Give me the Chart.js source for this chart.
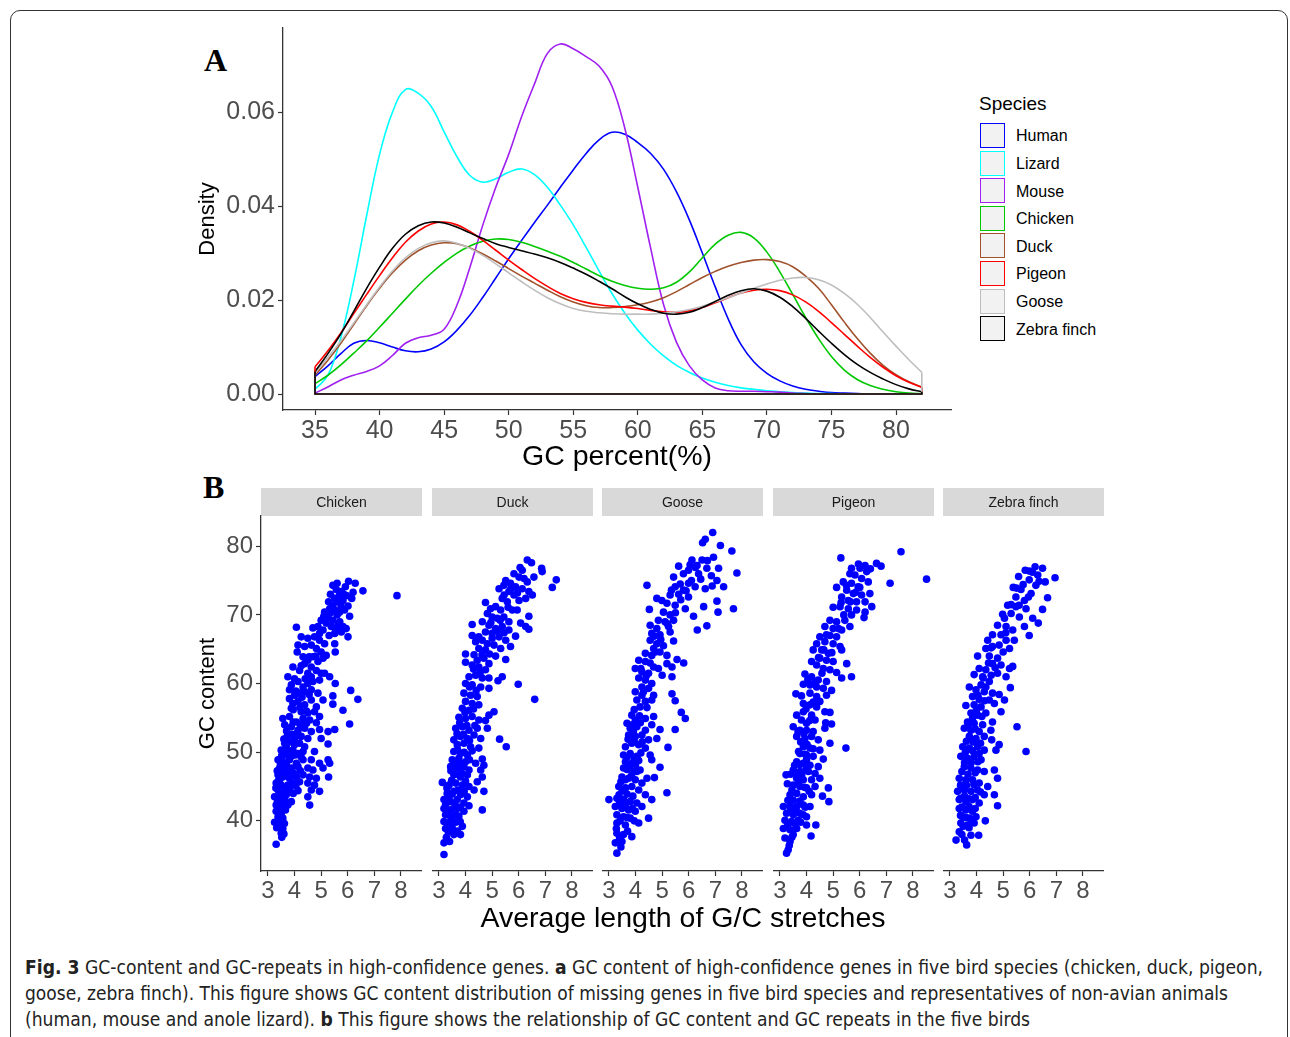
<!DOCTYPE html>
<html>
<head>
<meta charset="utf-8">
<script src="https://cdn.jsdelivr.net/npm/chart.js@4.4.0/dist/chart.umd.min.js"></script>
<style>
body { margin: 0; background: #fff; width: 1290px; height: 1037px; overflow: hidden; position: relative;
       font-family: "Liberation Sans", Arial, sans-serif; }
.abs { position: absolute; }
#frame { left: 10px; top: 10px; width: 1276px; height: 1040px; border: 1px solid #333; border-radius: 10px; }
.letter { font-family: "Liberation Serif", "Times New Roman", serif; font-weight: bold; font-size: 32px; line-height: 32px; }
#legendTitle { left: 979px; top: 93px; font-size: 19px; line-height: 22px; color: #000; }
.legRow { position: absolute; left: 980px; height: 27.6px; }
.legBox { position: absolute; left: 0; top: 0.8px; width: 23px; height: 23px; border: 1.5px solid; background: #f2f2f2; }
.legText { position: absolute; left: 36px; top: 0; line-height: 27.6px; font-size: 16px; white-space: nowrap; color: #000; }
#xTitleB { left: 383px; width: 600px; top: 900px; text-align: center; font-size: 28.5px; line-height: 34px; color: #000; }
.cap { left: 25px; white-space: nowrap; font-size: 19px; line-height: 26px; color: #222; transform-origin: 0 0;
       font-family: "Liberation Sans Narrow", "DejaVu Sans Condensed", "Liberation Sans", sans-serif; }
canvas { position: absolute; }
</style>
</head>
<body>
<div id="frame" class="abs"></div>
<div class="abs letter" style="left:204px; top:44px;">A</div>
<div class="abs letter" style="left:203px; top:471px;">B</div>

<canvas id="density" width="770" height="460" style="left:190px; top:20px;"></canvas>
<div id="legendTitle" class="abs">Species</div>
<div id="legend"></div>

<canvas id="f0" width="232" height="430" style="left:190px; top:480px;"></canvas>
<canvas id="f1" width="161" height="430" style="left:432px; top:480px;"></canvas>
<canvas id="f2" width="161" height="430" style="left:602px; top:480px;"></canvas>
<canvas id="f3" width="161" height="430" style="left:773px; top:480px;"></canvas>
<canvas id="f4" width="161" height="430" style="left:943px; top:480px;"></canvas>
<div id="xTitleB" class="abs">Average length of G/C stretches</div>

<div class="abs cap" data-w="1238" style="top:954px;"><b>Fig. 3</b> GC-content and GC-repeats in high-confidence genes. <b>a</b> GC content of high-confidence genes in five bird species (chicken, duck, pigeon,</div>
<div class="abs cap" data-w="1203" style="top:980px;">goose, zebra finch). This figure shows GC content distribution of missing genes in five bird species and representatives of non-avian animals</div>
<div class="abs cap" data-w="1005" style="top:1006px;">(human, mouse and anole lizard). <b>b</b> This figure shows the relationship of GC content and GC repeats in the five birds</div>

<script>
// ---- panel A: GC percent density ----
const gcPercent = [35,36,37,38,39,40,41,42,43,44,45,46,47,48,49,50,51,52,53,54,55,56,57,58,59,
                   60,61,62,63,64,65,66,67,68,69,70,71,72,73,74,75,76,77,78,79,80,81,82];
const densityXTicks = [35,40,45,50,55,60,65,70,75,80];
const densityYTicks = [0,0.02,0.04,0.06];

const human = [0.0037,0.0060,0.0086,0.0108,0.0114,0.0109,0.0100,0.0092,0.0090,0.0096,
  0.0111,0.0136,0.0168,0.0206,0.0247,0.0288,0.0327,0.0365,0.0402,0.0440,
  0.0477,0.0512,0.0541,0.0557,0.0553,0.0535,0.0512,0.0478,0.0430,0.0370,
  0.0300,0.0228,0.0160,0.0105,0.0068,0.0044,0.0028,0.0017,0.0010,0.0006,
  0.0003,0.0002,0.0001,0,0,0,0,0];
const lizard = [0.0010,0.0040,0.0120,0.0240,0.0380,0.0510,0.0600,0.0648,0.0640,0.0612,
  0.0558,0.0505,0.0465,0.0451,0.0458,0.0472,0.0479,0.0467,0.0440,0.0402,
  0.0360,0.0312,0.0262,0.0214,0.0172,0.0136,0.0106,0.0081,0.0061,0.0046,
  0.0034,0.0025,0.0018,0.0013,0.0010,0.0007,0.0005,0.0003,0.0002,0.0001,
  0.0001,0,0,0,0,0,0,0];
const mouse = [0.0002,0.0015,0.0030,0.0040,0.0048,0.0060,0.0082,0.0108,0.0120,0.0125,
  0.0138,0.0190,0.0270,0.0360,0.0440,0.0510,0.0590,0.0660,0.0725,0.0745,
  0.0735,0.0718,0.0698,0.0655,0.0565,0.0440,0.0310,0.0190,0.0110,0.0060,
  0.0030,0.0013,0.0007,0.0006,0.0006,0.0005,0.0004,0.0002,0.0001,0,
  0,0,0,0,0,0,0,0];
const chicken = [0.0022,0.0040,0.0062,0.0087,0.0113,0.0142,0.0172,0.0202,0.0231,0.0257,
  0.0280,0.0300,0.0315,0.0325,0.0330,0.0329,0.0323,0.0314,0.0304,0.0293,
  0.0280,0.0266,0.0252,0.0240,0.0231,0.0225,0.0223,0.0226,0.0238,0.0260,
  0.0290,0.0319,0.0338,0.0344,0.0332,0.0302,0.0260,0.0212,0.0163,0.0118,
  0.0080,0.0051,0.0031,0.0018,0.0010,0.0005,0.0002,0.0001];
const duck = [0.0040,0.0072,0.0108,0.0148,0.0188,0.0225,0.0258,0.0285,0.0305,0.0317,
  0.0322,0.0320,0.0311,0.0298,0.0283,0.0267,0.0251,0.0236,0.0221,0.0207,
  0.0196,0.0188,0.0184,0.0184,0.0186,0.0190,0.0196,0.0205,0.0218,0.0233,
  0.0248,0.0261,0.0272,0.0280,0.0285,0.0286,0.0282,0.0271,0.0251,0.0225,
  0.0190,0.0153,0.0118,0.0087,0.0061,0.0041,0.0026,0.0015];
const pigeon = [0.0058,0.0092,0.0130,0.0171,0.0212,0.0252,0.0290,0.0323,0.0347,0.0362,
  0.0366,0.0360,0.0346,0.0327,0.0306,0.0285,0.0265,0.0246,0.0229,0.0214,
  0.0203,0.0195,0.0190,0.0187,0.0185,0.0182,0.0178,0.0175,0.0174,0.0177,
  0.0184,0.0194,0.0205,0.0215,0.0221,0.0223,0.0220,0.0211,0.0196,0.0176,
  0.0152,0.0127,0.0102,0.0078,0.0057,0.0039,0.0025,0.0014];
const goose = [0.0045,0.0078,0.0113,0.0151,0.0190,0.0228,0.0262,0.0290,0.0310,0.0322,
  0.0326,0.0321,0.0310,0.0295,0.0277,0.0258,0.0239,0.0221,0.0205,0.0192,
  0.0182,0.0176,0.0173,0.0171,0.0170,0.0170,0.0170,0.0172,0.0175,0.0180,
  0.0187,0.0196,0.0205,0.0215,0.0225,0.0234,0.0242,0.0247,0.0248,0.0243,
  0.0232,0.0214,0.0191,0.0163,0.0132,0.0102,0.0073,0.0046];
const zebraFinch = [0.0048,0.0086,0.0128,0.0176,0.0225,0.0270,0.0310,0.0340,0.0358,0.0366,
  0.0364,0.0355,0.0343,0.0331,0.0320,0.0312,0.0305,0.0298,0.0290,0.0280,
  0.0268,0.0255,0.0240,0.0224,0.0207,0.0192,0.0180,0.0172,0.0170,0.0174,
  0.0184,0.0197,0.0210,0.0220,0.0224,0.0219,0.0206,0.0186,0.0161,0.0134,
  0.0108,0.0084,0.0063,0.0046,0.0032,0.0020,0.0011,0.0005];

const species = ["Human","Lizard","Mouse","Chicken","Duck","Pigeon","Goose","Zebra finch"];
const speciesColors = ["#0000ff","#00ffff","#a020f0","#00c800","#a0522d","#ff0000","#bebebe","#000000"];
const densities = [human, lizard, mouse, chicken, duck, pigeon, goose, zebraFinch];

// ---- panel B: GC content vs average G/C stretch length ----
const facetNames = ["Chicken","Duck","Goose","Pigeon","Zebra finch"];
const facetXTicks = [3,4,5,6,7,8];
const facetYTicks = [40,50,60,70,80];

const chickenPts = [[5.44,74.3],[5.57,73.7],[5.76,73.4],[6.03,74.9],[6.28,74.6],[6.20,73.3],[6.57,73.5],[5.91,74.1],[5.69,72.9],[5.51,72.4],
  [5.28,71.9],[5.44,71.4],[5.63,71.9],[5.82,72.1],[6.01,71.3],[5.88,70.7],[6.07,69.8],[5.69,70.4],[5.51,70.7],[5.32,70.9],
  [5.13,70.4],[5.26,69.7],[5.44,69.2],[5.63,68.5],[5.82,68.3],[5.94,68.0],[5.76,67.5],[5.57,67.8],[5.38,68.3],[5.19,68.8],
  [5.00,69.2],[4.88,68.3],[4.69,68.1],[5.07,67.8],[4.94,67.3],[5.51,67.3],[6.01,66.8],[7.85,72.8],[4.07,68.2],
  [4.25,66.8],[4.50,66.6],[4.75,66.8],[4.94,66.3],[5.13,65.8],[4.13,65.6],[4.38,65.4],[4.63,65.6],[4.82,65.1],[5.00,64.6],[5.19,64.1],[5.51,65.8],[5.53,64.6],
  [4.10,64.6],[4.32,63.9],[4.50,63.4],[4.69,63.9],[4.88,63.2],[5.07,63.7],[4.38,62.9],[4.63,62.4],[4.82,61.9],[5.00,61.5],[3.94,62.4],[4.19,61.9],[4.50,61.5],
  [5.13,61.5],[5.32,61.0],[3.75,61.0],[4.63,61.0],[4.94,60.5],[5.53,60.0],
  [3.88,59.8],[4.13,60.3],[4.32,59.5],[4.50,60.0],[4.69,60.3],[3.81,59.1],[4.00,58.3],[4.19,58.6],[4.38,58.8],[4.63,59.1],[4.88,58.6],[5.07,57.6],[5.44,58.2],
  [6.11,59.0],[6.38,57.7],[5.44,57.0],[5.82,56.1],
  [3.81,57.8],[3.94,57.1],[4.13,57.4],[4.38,56.9],[4.63,57.6],[4.82,56.6],[3.88,56.4],[4.25,55.9],[4.50,55.7],[4.75,55.9],[4.94,55.2],
  [3.56,54.9],[3.81,55.2],[4.07,54.4],[4.32,54.9],[4.57,54.7],[4.82,54.3],[3.63,54.0],[3.88,53.7],[4.13,53.2],[4.38,53.5],[4.63,53.0],[4.94,53.3],[5.26,53.0],
  [5.51,53.3],[6.07,54.1],[4.50,52.0],[5.00,52.0],[5.26,51.2],
  [3.63,51.3],[3.81,51.5],[4.00,51.1],[4.19,51.3],[4.38,50.8],[3.50,50.3],[3.75,50.1],[3.94,50.3],[4.13,49.8],[4.32,50.1],[4.75,50.1],
  [3.38,48.9],[3.56,48.6],[3.81,48.9],[4.07,48.4],[4.32,48.9],[4.63,48.9],[4.94,48.4],[5.26,48.9],[5.32,48.4],
  [3.44,47.7],[3.63,47.4],[3.88,47.7],[4.13,47.9],[4.50,47.7],[4.69,47.4],[5.07,47.7],[3.38,46.7],[3.56,46.4],[3.81,46.2],[4.07,46.4],[4.32,46.7],[4.57,46.4],
  [4.82,46.2],[5.28,46.4],
  [3.31,45.5],[3.50,45.2],[3.75,45.2],[3.94,45.5],[4.19,45.7],[4.50,45.5],[4.75,45.2],[3.38,44.5],[3.63,44.3],[4.13,44.4],[4.63,44.5],[4.94,44.3],
  [3.25,43.5],[3.44,43.3],[3.63,43.1],[3.88,42.8],[4.50,43.5],[4.57,42.3],[3.31,42.3],[3.50,42.1],[3.75,42.3],
  [3.31,41.4],[3.50,41.1],[3.38,40.6],[3.56,40.4],[3.25,39.8],[3.44,39.4],[3.56,38.9],[3.50,38.2],[3.60,38.1],[3.31,36.6],
  [3.38,43.5],[3.69,43.8],[3.44,46.0],[3.69,48.2],[3.88,49.4],[3.69,50.8],[4.00,52.0],[4.25,52.3],
  [3.30,44.8],[3.40,45.9],[3.47,44.0],[3.55,43.6],[3.70,44.9],[3.82,44.6],[3.95,44.0],[4.05,45.1],[3.36,42.8],[3.45,41.8],
  [3.58,42.6],[3.66,41.6],[3.42,40.1],[3.33,39.0],[3.48,39.8],[3.62,39.6],[3.52,37.6],
  [3.35,47.3],[3.47,48.3],[3.58,47.0],[3.72,46.8],[3.85,47.2],[3.98,46.9],[4.22,47.3],[3.52,49.5],[3.65,49.6],[3.78,49.7],
  [4.02,49.6],[4.25,49.3],[3.60,51.9],[3.73,52.4],[3.90,52.6],[4.10,52.7],
  [3.70,53.1],[3.95,54.4],[4.22,54.0],[4.45,54.2],[3.95,56.2],[4.20,56.5],[4.45,56.0],[4.05,58.9],[4.28,58.0],[4.55,58.4],
  [4.00,60.7],[4.40,60.7],[4.25,62.6],[4.55,63.9],[4.80,64.0],
  [5.35,70.3],[5.60,70.0],[5.75,71.2],[5.95,72.8],[5.35,73.0],[5.60,74.6],[5.85,73.0],[6.15,72.4],[5.70,69.0],[5.10,69.8],[5.30,67.0]];

const duckPts = [[6.32,78.0],[6.48,77.6],[6.86,76.8],[6.88,76.3],[7.41,75.1],[7.26,74.0],[6.13,76.5],[5.82,76.0],[6.01,75.5],[6.32,74.8],
  [6.57,75.5],[5.51,75.0],[5.69,74.6],[5.88,74.1],[6.13,73.8],[6.38,73.4],[6.51,72.9],[6.26,72.4],[5.44,74.3],[5.26,73.8],
  [5.63,73.4],[5.82,72.9],[6.01,72.1],[5.38,72.4],[5.57,71.9],[4.75,71.8],[4.94,70.9],[5.13,71.2],[5.32,70.7],[5.76,70.7],
  [5.94,70.7],[6.38,69.8],[6.07,68.8],[6.26,68.3],[6.38,67.9],[4.82,70.2],[5.00,69.7],[5.19,69.5],[5.44,69.7],[5.63,69.0],
  [4.63,69.0],[4.25,68.6],[4.88,68.5],[5.13,68.0],[5.38,68.3],[5.63,67.8],[5.88,66.9],[4.75,67.5],[5.00,67.3],[4.25,67.0],
  [4.50,66.8],[5.26,66.8],[5.51,66.3],[5.69,65.4],
  [4.38,66.1],[4.63,66.3],[4.82,65.8],[5.07,65.6],[5.32,65.1],[4.50,65.1],[4.75,64.9],[4.00,64.3],[4.32,64.2],[5.13,64.0],
  [5.51,63.5],[4.00,63.1],[4.44,63.4],[4.69,63.7],[4.88,62.9],[4.25,62.7],[4.50,62.4],[4.75,62.0],[4.13,61.0],[4.38,61.2],
  [4.63,60.8],[4.88,60.8],[5.38,61.0],[5.22,60.4],[5.98,59.9],[4.00,60.0],[4.25,59.8],[4.57,59.5],[4.88,59.3],[3.94,58.6],
  [4.19,58.3],[4.44,58.1],[6.60,57.7],[4.00,57.4],[4.25,57.1],[4.50,56.9],[3.88,56.4],[4.13,56.1],[5.07,55.9],[4.88,55.4],
  [3.75,55.1],[4.00,54.9],[4.25,55.2],[4.50,54.7],[4.75,54.6],[3.63,53.5],[3.88,53.7],[4.13,53.2],[4.44,53.5],[4.82,53.5],
  [3.56,51.8],[3.81,52.3],[4.07,52.0],[4.32,52.5],[4.57,52.0],[5.28,51.9],[5.53,50.8],[3.69,51.1],[3.94,51.3],[4.19,50.8],
  [4.50,50.6],[3.56,50.1],[3.81,49.8],[4.07,49.6],[3.50,48.9],[3.75,49.1],[4.00,48.6],[4.63,49.0],[4.38,48.4],[4.69,48.1],
  [3.44,47.9],[3.69,47.7],[3.94,47.9],[4.13,47.4],[4.57,47.4],[3.56,46.7],[3.81,46.4],[4.07,46.7],[4.63,46.4],[3.13,45.6],
  [3.38,45.2],[3.63,45.5],[3.88,45.2],[4.13,45.0],[4.44,45.7],
  [3.31,44.0],[3.56,44.3],[3.81,43.8],[4.07,43.5],[4.32,44.5],[4.69,44.3],[3.19,43.1],[3.44,42.8],[3.69,43.1],[3.94,42.6],
  [4.13,42.2],[3.19,41.8],[3.44,41.6],[3.69,41.8],[3.94,41.4],[4.63,41.6],[3.25,40.9],[3.50,40.6],[3.75,40.7],[3.19,39.9],
  [3.38,39.7],[3.63,39.8],[3.25,38.9],[3.88,39.2],[3.56,38.0],[3.81,38.0],[3.19,36.8],[3.40,37.0],[3.19,35.1],
  [3.25,42.4],[3.35,43.6],[3.50,43.9],[3.60,42.4],[3.80,42.0],[3.30,41.0],[3.45,40.2],[3.62,40.9],[3.80,39.9],[3.35,38.4],
  [3.50,39.0],[3.70,38.5],[3.28,37.6],
  [3.30,44.8],[3.48,45.9],[3.72,44.5],[3.95,44.3],[3.45,47.3],[3.60,46.8],[3.85,47.0],[4.00,45.8],[3.62,48.3],[3.85,48.2],
  [4.15,48.9],[3.70,50.4],[3.95,50.0],[4.25,50.2],
  [3.68,52.7],[3.92,52.6],[4.15,51.7],[3.78,54.3],[4.05,53.9],[4.35,53.9],[3.98,55.8],[4.30,56.3],[4.15,59.5],[4.40,59.0],
  [4.55,61.6],[4.30,62.1],[4.62,64.2],[4.90,64.3],
  [5.00,66.6],[5.20,67.7],[5.45,67.4],[4.95,68.9],[5.30,69.2],[5.60,71.1],[5.45,72.9],[5.70,73.8],[5.95,73.2],[6.20,75.3],[6.05,76.9]];

const goosePts = [[6.90,82.0],[6.62,81.0],[6.52,80.5],[7.19,80.1],[7.62,79.3],[6.93,78.4],[6.50,78.0],[6.12,78.0],[5.62,77.1],[6.31,77.2],
  [6.68,76.8],[7.12,76.8],[7.81,76.1],[5.99,76.5],[6.37,76.0],[5.80,76.0],[5.43,75.5],[7.06,75.0],[7.31,74.1],[4.43,74.3],
  [6.88,74.2],[6.62,73.8],[5.68,74.5],[5.99,74.6],[6.24,74.1],[5.49,74.1],[5.80,73.6],[5.62,73.0],[5.30,72.9],[5.99,72.6],
  [4.80,72.4],[4.99,72.1],[7.06,72.0],[5.18,71.7],[5.49,71.4],[5.87,70.9],[6.56,71.2],[7.68,70.9],[7.10,70.4],[4.52,70.8],
  [6.18,69.8],[5.05,70.4],[5.30,70.0],[4.86,69.2],[5.11,69.0],[5.43,69.2],[4.55,68.5],[4.80,68.0],[5.24,68.3],[6.68,68.4],[6.32,67.8],
  [4.61,67.3],[4.92,67.1],[5.30,67.5],[5.43,66.2],[4.55,66.3],[4.80,65.8],[5.05,65.5],[4.68,65.1],[4.92,64.6],[5.18,64.1],
  [4.37,64.4],[4.61,64.1],[5.56,63.5],[5.81,63.0],[4.12,63.4],[4.37,63.2],[4.68,62.4],[4.86,62.2],[5.18,62.9],[5.37,62.4],
  [3.99,62.2],[4.24,61.7],[4.49,61.5],[5.00,61.2],[5.37,61.0],[4.12,60.8],[4.37,60.5],[4.61,60.0],[4.24,59.5],[4.49,59.3],
  [3.99,58.8],[4.24,58.3],[4.68,58.3],[5.37,58.5],[5.49,57.5],[4.05,57.6],[4.37,57.4],[4.61,57.6],[4.17,56.6],[4.43,56.5],
  [5.72,55.8],[5.87,54.9],
  [3.86,55.4],[3.68,54.2],[3.99,54.7],[4.37,54.9],[4.68,55.2],[3.80,53.5],[4.05,53.7],[4.37,53.2],[4.61,54.0],[4.92,53.3],
  [5.49,53.3],[3.74,52.5],[3.99,52.3],[4.24,52.5],[4.49,51.8],[4.80,52.0],[3.62,50.8],[3.86,51.3],[4.12,51.1],[4.37,50.6],
  [5.22,50.7],[3.55,49.6],[3.80,49.8],[4.05,49.4],[4.55,49.6],[3.62,48.6],[3.86,48.4],[4.12,48.8],[4.61,48.9],[4.92,47.8],
  [3.68,47.5],[3.93,47.2],[4.17,47.4],[4.43,46.2],[4.71,46.3],[3.49,46.4],[3.74,46.2],[3.99,46.0],[4.24,45.5],[3.37,45.0],
  [3.62,44.8],[3.86,45.0],
  [4.12,44.5],[4.37,43.8],[4.61,43.1],[5.18,44.1],[3.00,43.1],[3.30,43.3],[3.55,43.1],[3.80,42.8],[4.05,42.6],[4.24,42.1],
  [3.24,42.1],[3.49,41.8],[3.74,41.6],[3.99,41.4],[4.49,40.4],[3.30,40.9],[3.55,40.6],[3.80,40.4],[4.12,39.7],[3.30,39.7],
  [3.62,39.4],[3.86,37.7],[3.30,38.2],[3.55,38.0],[3.24,36.8],[3.49,37.0],[3.30,35.3],
  [3.38,43.8],[3.50,44.4],[3.68,43.9],[3.90,43.6],[3.40,42.6],[3.62,42.3],[3.88,41.8],[3.42,40.0],[3.68,40.5],[3.95,40.0],
  [3.40,37.5],[3.70,38.5],[3.45,36.2],[3.28,38.9],
  [3.45,45.7],[3.62,46.0],[3.85,46.6],[4.05,47.2],[3.55,47.7],[3.78,47.9],[4.00,48.2],[3.68,49.3],[3.95,49.0],[4.20,49.9],
  [3.72,51.9],[3.95,51.8],[4.25,51.5],[3.88,54.0],[4.18,54.3],
  [3.92,53.0],[4.15,55.3],[3.95,56.2],[4.30,58.8],[4.40,61.1],[4.20,62.2],[4.55,63.0],[4.75,64.6],[4.95,66.4],[4.70,66.9],
  [5.20,68.7],[5.50,70.3],[5.70,72.2],[5.35,73.6],
  [5.90,73.5],[6.10,75.0],[6.45,75.2],[6.25,76.9],[6.70,77.9],[6.05,77.3],[6.85,75.7]];

const pigeonPts = [[5.29,78.3],[7.55,79.2],[8.51,75.2],[7.14,74.6],[6.63,77.5],[6.80,77.1],[6.20,77.2],[6.01,76.8],[6.26,76.3],[5.69,76.8],
  [5.82,75.8],[5.63,76.0],[6.07,75.3],[6.32,74.8],[5.38,74.8],[5.69,74.6],[5.94,74.1],[5.13,74.0],[5.51,73.6],[5.76,73.1],
  [6.07,72.9],[6.38,73.1],[5.32,72.6],[5.57,72.1],[5.88,71.9],[6.20,71.9],[6.45,71.2],[5.00,71.1],[5.26,71.2],[5.57,70.9],
  [5.88,70.7],[6.20,70.4],[6.16,69.6],[5.69,70.0],[4.88,69.2],[5.13,69.0],[5.44,69.2],[5.63,68.3],[4.69,68.3],[5.00,68.0],[5.32,67.8],
  [4.50,66.8],[4.75,67.1],[5.13,66.8],[4.38,65.8],[4.69,66.1],[5.00,65.8],[5.26,65.4],[5.32,64.9],[4.25,64.9],[4.57,64.9],
  [4.82,64.4],[4.50,63.7],[4.75,63.4],[5.00,63.2],[4.19,63.2],[5.51,62.9],[4.38,62.7],[4.63,62.2],[4.88,62.0],[5.13,61.6],
  [5.32,60.8],[5.69,61.0],[3.94,61.4],[4.19,61.0],[4.44,60.5],[4.75,60.3],[3.88,59.9],[4.13,59.8],[4.38,59.5],[4.63,59.3],
  [4.94,59.0],[3.60,58.5],[3.81,58.2],[4.13,58.6],[4.38,58.1],[4.75,58.3],[3.88,57.1],[4.13,56.9],[4.38,56.6],[4.69,55.9],
  [4.88,55.8],[3.63,55.4],[3.88,55.9],[4.19,55.4],[3.81,54.7],[4.00,54.2],[4.32,54.7],[4.72,54.3],[4.94,54.1],[3.50,53.7],
  [3.75,53.2],[4.00,53.2],[4.25,53.0],[4.69,53.5],[3.63,52.3],[3.94,52.0],[4.19,52.3],[4.44,51.8],[4.88,51.3],[5.48,50.6],
  [3.88,50.8],[4.13,50.6],[4.50,50.3],[3.75,49.8],[4.00,49.6],[4.25,49.4],[4.63,49.0],[3.63,48.6],[3.88,48.4],[4.13,48.1],
  [4.44,47.9],[3.50,47.4],[3.75,47.2],[4.07,47.2],[4.32,46.9],[3.23,46.7],[3.63,46.2],[3.88,46.0],[4.19,46.0],[4.50,46.2],
  [3.50,45.2],[3.75,45.0],[4.00,44.8],[4.32,45.0],[4.82,44.8],[3.38,43.8],[3.63,44.0],[3.88,43.5],[4.19,43.8],[4.60,43.6],[4.84,42.8],
  [3.13,42.1],[3.38,42.3],[3.63,42.1],[3.88,42.3],[4.13,42.1],[3.25,41.1],[3.50,40.9],[3.75,41.1],[4.00,40.6],[3.19,40.1],
  [3.44,39.9],[3.69,40.1],[4.00,39.4],[4.35,39.4],[3.13,38.9],[3.38,38.7],[3.63,38.9],[4.17,37.8],[3.19,37.5],[3.38,37.0],
  [3.31,35.8],[3.25,35.3],
  [3.30,43.0],[3.50,43.0],[3.75,42.9],[3.95,42.0],[3.40,41.6],[3.62,41.4],[3.88,40.9],[3.30,39.5],[3.55,39.6],[3.78,39.8],
  [3.50,38.0],[3.35,36.4],[3.45,37.6],
  [3.28,45.4],[3.45,44.5],[3.70,45.5],[3.92,44.9],[4.10,44.3],[3.40,46.8],[3.58,47.0],[3.82,46.7],[3.98,47.5],[3.55,48.1],
  [3.75,48.2],[4.00,48.9],[3.70,50.1],[3.95,49.7],[4.25,50.5],
  [3.78,51.5],[4.02,51.1],[3.68,53.0],[3.90,52.7],[4.12,54.6],[3.98,56.3],[4.25,57.3],[4.50,57.4],[4.05,60.6],[4.30,60.1],
  [4.58,61.5],[4.45,63.8],[4.65,64.9],[4.95,64.5],
  [4.88,67.0],[5.20,68.0],[5.40,70.0],[5.30,71.8],[5.65,71.9],[5.50,74.3],[5.85,73.3],[6.00,74.0],[5.95,77.4],[6.40,76.7]];

const zebraPts = [[6.20,77.0],[6.48,76.8],[5.83,76.5],[5.98,76.4],[6.95,75.4],[5.58,75.6],[6.30,75.8],[5.98,75.1],[6.58,74.8],[6.23,74.3],
  [5.38,74.0],[5.67,73.7],[6.05,73.1],[6.67,72.5],[5.48,72.6],[5.80,72.1],[5.17,71.4],[5.48,71.2],[5.86,70.9],[6.48,70.8],
  [5.30,70.2],[5.61,69.7],[6.11,69.5],[6.32,68.8],[5.05,69.5],[4.79,68.5],[5.11,68.3],[5.36,67.8],[5.80,68.3],[5.98,67.0],
  [4.60,67.1],[4.92,67.1],[5.11,66.3],[5.42,66.3],[4.42,66.3],[4.35,65.1],[4.60,65.4],[5.24,65.1],[4.04,64.0],
  [4.48,64.0],[4.79,63.7],[4.60,62.9],[4.92,62.7],[5.36,62.5],[4.10,62.2],[4.35,62.0],[5.24,62.2],[3.91,61.3],[4.23,61.0],
  [4.79,61.5],[5.11,61.0],[4.48,60.3],[4.17,59.8],[5.27,59.4],[3.73,59.5],[3.98,59.1],[4.29,58.8],[4.60,58.6],[4.85,58.4],
  [3.85,58.1],[4.10,57.7],[4.48,57.6],[5.05,57.6],[3.60,56.8],[3.91,56.9],[4.17,56.6],[4.67,57.1],[4.92,55.9],[3.79,55.7],
  [4.04,55.4],[4.35,55.7],[4.60,54.4],[5.52,53.7],[3.66,54.4],[3.91,54.2],[4.23,54.0],[3.54,53.5],[3.79,53.2],[4.10,53.0],
  [4.54,53.2],[3.73,52.3],[3.98,52.0],[4.29,52.3],[4.57,51.8],[4.85,51.1],[4.73,50.3],[5.86,50.1],
  [3.48,50.8],[3.73,50.6],[4.04,50.8],[4.29,50.3],[3.41,49.4],[3.66,49.1],[3.91,49.4],[4.17,48.9],[3.54,47.9],[3.79,47.7],
  [4.04,47.4],[4.29,47.2],[4.67,47.4],[4.79,46.2],[3.35,46.2],[3.60,46.0],[3.85,46.0],[4.10,45.5],[4.42,45.0],[3.29,44.3],
  [3.54,44.5],[3.79,44.3],[4.04,44.5],[4.67,43.8],[4.29,43.8],[3.35,43.1],[3.60,42.8],[3.85,43.1],[4.10,42.6],[4.79,42.2],
  [3.35,41.8],[3.60,41.6],[3.85,41.4],[3.48,40.6],[3.73,40.4],[3.98,40.6],[4.33,40.0],[3.41,39.7],[3.66,39.4],[3.91,39.7],
  [3.35,38.4],[3.79,37.9],[4.08,37.9],[3.23,37.2],[3.63,36.5],
  [3.40,43.3],[3.55,43.6],[3.72,43.2],[3.95,43.4],[3.45,42.0],[3.72,42.1],[3.95,41.8],[3.40,40.8],[3.60,40.5],[3.85,40.2],
  [3.50,39.2],[3.72,39.0],[3.45,38.0],[3.55,37.2],
  [3.40,45.2],[3.62,45.2],[3.90,45.3],[4.15,44.2],[3.45,47.2],[3.68,46.8],[3.95,47.0],[3.55,48.5],[3.80,48.5],[4.05,48.6],
  [3.58,50.0],[3.85,50.2],[4.10,49.8],[3.62,51.6],
  [3.88,51.5],[4.15,51.3],[3.68,53.9],[3.95,53.4],[3.85,55.0],[4.20,55.2],[4.00,56.2],[4.30,57.5],[4.05,58.3],[4.35,59.5],
  [4.25,60.8],[4.55,61.2],[4.45,63.0],[4.70,62.3],
  [4.55,65.2],[4.85,65.6],[5.00,64.6],[5.10,67.4],[4.98,70.1],[5.30,71.5],[5.60,71.4],[5.50,73.9],[5.75,74.4],[5.95,72.6],
  [6.10,76.2],[6.35,74.9]];

const facetPoints = [chickenPts, duckPts, goosePts, pigeonPts, zebraPts];

const FONT = '"Liberation Sans", Arial, sans-serif';
const tickGrey = "#4d4d4d";
const axisColor = "#333333";

// closes each density outline down to zero, like a polygon
const densityEdges = {
  id: 'densityEdges',
  afterDatasetsDraw(chart) {
    const ctx = chart.ctx;
    const y0 = chart.scales.y.getPixelForValue(0);
    ctx.save();
    chart.data.datasets.forEach(function (ds, i) {
      const pts = chart.getDatasetMeta(i).data;
      const first = pts[0], last = pts[pts.length - 1];
      ctx.strokeStyle = ds.borderColor;
      ctx.lineWidth = ds.borderWidth;
      ctx.beginPath();
      ctx.moveTo(first.x, first.y);
      ctx.lineTo(first.x, y0);
      ctx.lineTo(last.x, y0);
      ctx.lineTo(last.x, last.y);
      ctx.stroke();
    });
    ctx.restore();
  }
};

// grey facet strip above each panel
const facetStrip = {
  id: 'facetStrip',
  beforeDraw(chart, args, opts) {
    const ctx = chart.ctx, a = chart.chartArea;
    ctx.save();
    ctx.fillStyle = '#d9d9d9';
    ctx.fillRect(a.left, a.top - 28, a.right - a.left, 28);
    ctx.fillStyle = '#1a1a1a';
    ctx.font = '14px ' + FONT;
    ctx.textAlign = 'center';
    ctx.textBaseline = 'middle';
    ctx.fillText(opts.label, (a.left + a.right) / 2, a.top - 13);
    ctx.restore();
  }
};

function axisStyle() {
  return {
    grid: { display: true, drawOnChartArea: false, drawTicks: true, tickLength: 5, tickColor: axisColor, tickWidth: 1.2 },
    border: { display: true, color: axisColor, width: 1.3 },
  };
}

// fixed axis sizes so the plot areas land where the original has them
function fixX(h) {
  return function (s) { s.height = h; s.paddingLeft = 0; s.paddingRight = 0; };
}
function fixY(w) {
  return function (s) { if (w !== null) s.width = w; s.paddingTop = 0; s.paddingBottom = 0; };
}

new Chart(document.getElementById('density'), {
  type: 'line',
  data: {
    datasets: species.map(function (name, i) {
      return {
        label: name,
        data: gcPercent.map(function (x, j) { return { x: x, y: densities[i][j] }; }),
        borderColor: speciesColors[i],
        borderWidth: 1.6,
        pointRadius: 0,
        tension: 0.4,
        fill: false,
        order: species.length - 1 - i
      };
    })
  },
  plugins: [densityEdges],
  options: {
    responsive: false,
    animation: false,
    events: [],
    layout: { autoPadding: false, padding: { top: 8, right: 9, left: 0, bottom: 0 } },
    plugins: { legend: { display: false }, tooltip: { enabled: false } },
    scales: {
      x: Object.assign(axisStyle(), {
        type: 'linear', min: 32.52, max: 84.26,
        afterBuildTicks: function (s) { s.ticks = densityXTicks.map(function (v) { return { value: v }; }); },
        afterFit: fixX(70),
        ticks: { color: tickGrey, font: { size: 25, family: FONT }, padding: 1, maxRotation: 0, autoSkip: false },
        title: { display: true, text: 'GC percent(%)', color: '#000', font: { size: 28.5, family: FONT }, padding: { bottom: 6 } }
      }),
      y: Object.assign(axisStyle(), {
        min: -0.0034, max: 0.0779,
        afterBuildTicks: function (s) { s.ticks = densityYTicks.map(function (v) { return { value: v }; }); },
        afterFit: fixY(93),
        ticks: { color: tickGrey, font: { size: 25, family: FONT }, padding: 3,
                 callback: function (v) { return v.toFixed(2); } },
        title: { display: true, text: 'Density', color: '#000', font: { size: 22, family: FONT }, padding: { top: 5 } }
      })
    }
  }
});

// legend for panel A
const legend = document.getElementById('legend');
species.forEach(function (name, i) {
  const row = document.createElement('div');
  row.className = 'legRow';
  row.style.top = (122.3 + i * 27.6) + 'px';
  row.innerHTML = '<div class="legBox" style="border-color:' + speciesColors[i] + '"></div><div class="legText">' + name + '</div>';
  legend.appendChild(row);
});

facetNames.forEach(function (name, k) {
  const first = k === 0;
  new Chart(document.getElementById('f' + k), {
    type: 'scatter',
    data: {
      datasets: [{
        data: facetPoints[k].map(function (p) { return { x: p[0], y: p[1] }; }),
        pointRadius: 3.8,
        pointHoverRadius: 3.8,
        pointBackgroundColor: '#0000ff',
        pointBorderWidth: 0
      }]
    },
    plugins: [facetStrip],
    options: {
      responsive: false,
      animation: false,
      events: [],
      layout: { autoPadding: false, padding: { top: 36, right: 0, left: 0, bottom: 0 } },
      plugins: { legend: { display: false }, tooltip: { enabled: false }, facetStrip: { label: name } },
      scales: {
        x: Object.assign(axisStyle(), {
          type: 'linear', min: 2.74, max: 8.79,
          afterBuildTicks: function (s) { s.ticks = facetXTicks.map(function (v) { return { value: v }; }); },
          afterFit: fixX(39),
          ticks: { color: tickGrey, font: { size: 24, family: FONT }, padding: 1, maxRotation: 0, autoSkip: false }
        }),
        y: Object.assign(axisStyle(), {
          display: first,
          min: 32.7, max: 84.4,
          afterBuildTicks: function (s) { s.ticks = facetYTicks.map(function (v) { return { value: v }; }); },
          afterFit: fixY(first ? 71 : null),
          ticks: { color: tickGrey, font: { size: 24, family: FONT }, padding: 3 },
          title: { display: true, text: 'GC content', color: '#000', font: { size: 22, family: FONT }, padding: { top: 5 } }
        })
      }
    }
  });
});

// squeeze caption lines to the widths of the original
document.querySelectorAll('.cap').forEach(function (el) {
  const w = el.getBoundingClientRect().width;
  el.style.transform = 'scaleX(' + (Number(el.dataset.w) / w) + ')';
});
</script>
</body>
</html>
